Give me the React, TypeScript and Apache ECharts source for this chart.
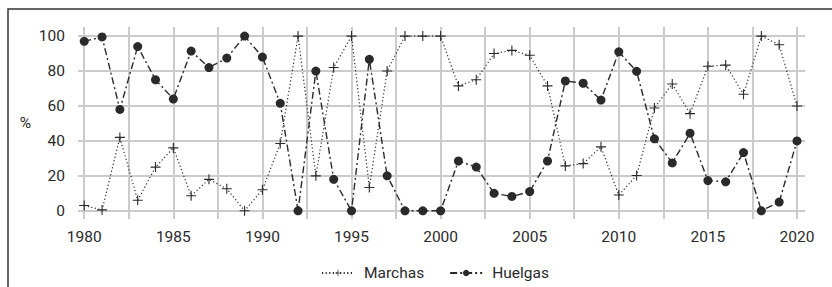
import React, { useEffect, useRef } from "react";
import * as echarts from "echarts";

const years: number[] = [];
for (let y = 1980; y <= 2020; y++) years.push(y);

const marchas = [3, 0.5, 42, 6, 25, 36, 8.6, 18, 12.6, 0, 12, 38.5, 100,
  20, 82, 100, 13.3, 80, 100, 100, 100, 71.5, 75, 90, 91.8, 89, 71.5,
  25.7, 27, 36.6, 9, 20.2, 58.8, 72.6, 55.6, 82.7, 83.4, 66.7, 100, 95, 60];
const huelgas = [97, 99.5, 58, 94, 75, 64, 91.4, 82, 87.4, 100, 88, 61.5, 0,
  80, 18, 0, 86.7, 20, 0, 0, 0, 28.5, 25, 10, 8.2, 11, 28.5,
  74.3, 73, 63.4, 91, 79.8, 41.2, 27.4, 44.4, 17.3, 16.6, 33.3, 0, 5, 40];

const xLabelValues = [1980, 1985, 1990, 1995, 2000, 2005, 2010, 2015, 2020];
const xGridValues = [1980, 1982.5, 1985, 1987.5, 1990, 1992.5, 1995, 1997.5, 2000,
  2002.5, 2005, 2007.5, 2010, 2012.5, 2015, 2017.5, 2020];
const yTickValues = [0, 20, 40, 60, 80, 100];

const FONT = "Roboto, 'Liberation Sans', sans-serif";
const INK = "#2a2a2a";
const GRID = "#cbcbcb";

export default function App() {
  const ref = useRef<HTMLDivElement>(null);
  useEffect(() => {
    document.body.style.margin = "0";
    const chart = echarts.init(ref.current!, null, { renderer: "svg" });
    const plus = "path://M0,4.45H10V5.55H0ZM4.45,0H5.55V10H4.45Z";
    const txt = { fontFamily: FONT, fontSize: 15.5, color: INK };
    chart.setOption({
      animation: false,
      backgroundColor: "#ffffff",
      textStyle: { fontFamily: FONT },
      graphic: [
        {
          type: "rect",
          shape: { x: 8, y: 9, width: 860, height: 320 },
          style: { fill: "none", stroke: "#333", lineWidth: 1.5 },
          silent: true,
        },
      ],
      grid: { left: 78, right: 27, top: 27, bottom: 68 },
      legend: {
        bottom: 6,
        left: 321,
        padding: 0,
        itemWidth: 32,
        itemHeight: 8,
        itemGap: 25,
        textStyle: { ...txt, padding: [0, 0, 0, 5] },
        data: ["Marchas", "Huelgas"],
      },
      xAxis: {
        type: "value",
        min: 1979.65,
        max: 2020.45,
        axisLine: { show: false },
        axisTick: { show: false, customValues: xGridValues },
        axisLabel: {
          ...txt,
          customValues: xLabelValues,
          formatter: (v: number) => String(v),
          margin: 10,
        },
        splitLine: { show: true, lineStyle: { color: GRID, width: 2 } },
      },
      yAxis: {
        type: "value",
        min: -4.7,
        max: 105.2,
        name: "%",
        nameLocation: "middle",
        nameGap: 47,
        nameRotate: 0,
        nameTextStyle: txt,
        axisLine: { show: false },
        axisTick: { show: false, customValues: yTickValues },
        axisLabel: {
          ...txt,
          customValues: yTickValues,
          margin: 13,
        },
        splitLine: { show: true, lineStyle: { color: GRID, width: 2 } },
      },
      series: [
        {
          name: "Marchas",
          type: "line",
          data: years.map((y, i) => [y, marchas[i]]),
          symbol: plus,
          symbolSize: 10,
          itemStyle: { color: INK },
          lineStyle: { color: INK, width: 1.2, type: [1.2, 2.4] },
          z: 2,
        },
        {
          name: "Huelgas",
          type: "line",
          data: years.map((y, i) => [y, huelgas[i]]),
          symbol: "circle",
          symbolSize: 9,
          itemStyle: { color: INK },
          lineStyle: { color: INK, width: 1.4, type: [7, 3, 2, 3] },
          z: 3,
        },
      ],
    });
    return () => chart.dispose();
  }, []);
  return (
    <div
      ref={ref}
      style={{ position: "absolute", left: 0, top: 0, width: 832, height: 287 }}
    />
  );
}
